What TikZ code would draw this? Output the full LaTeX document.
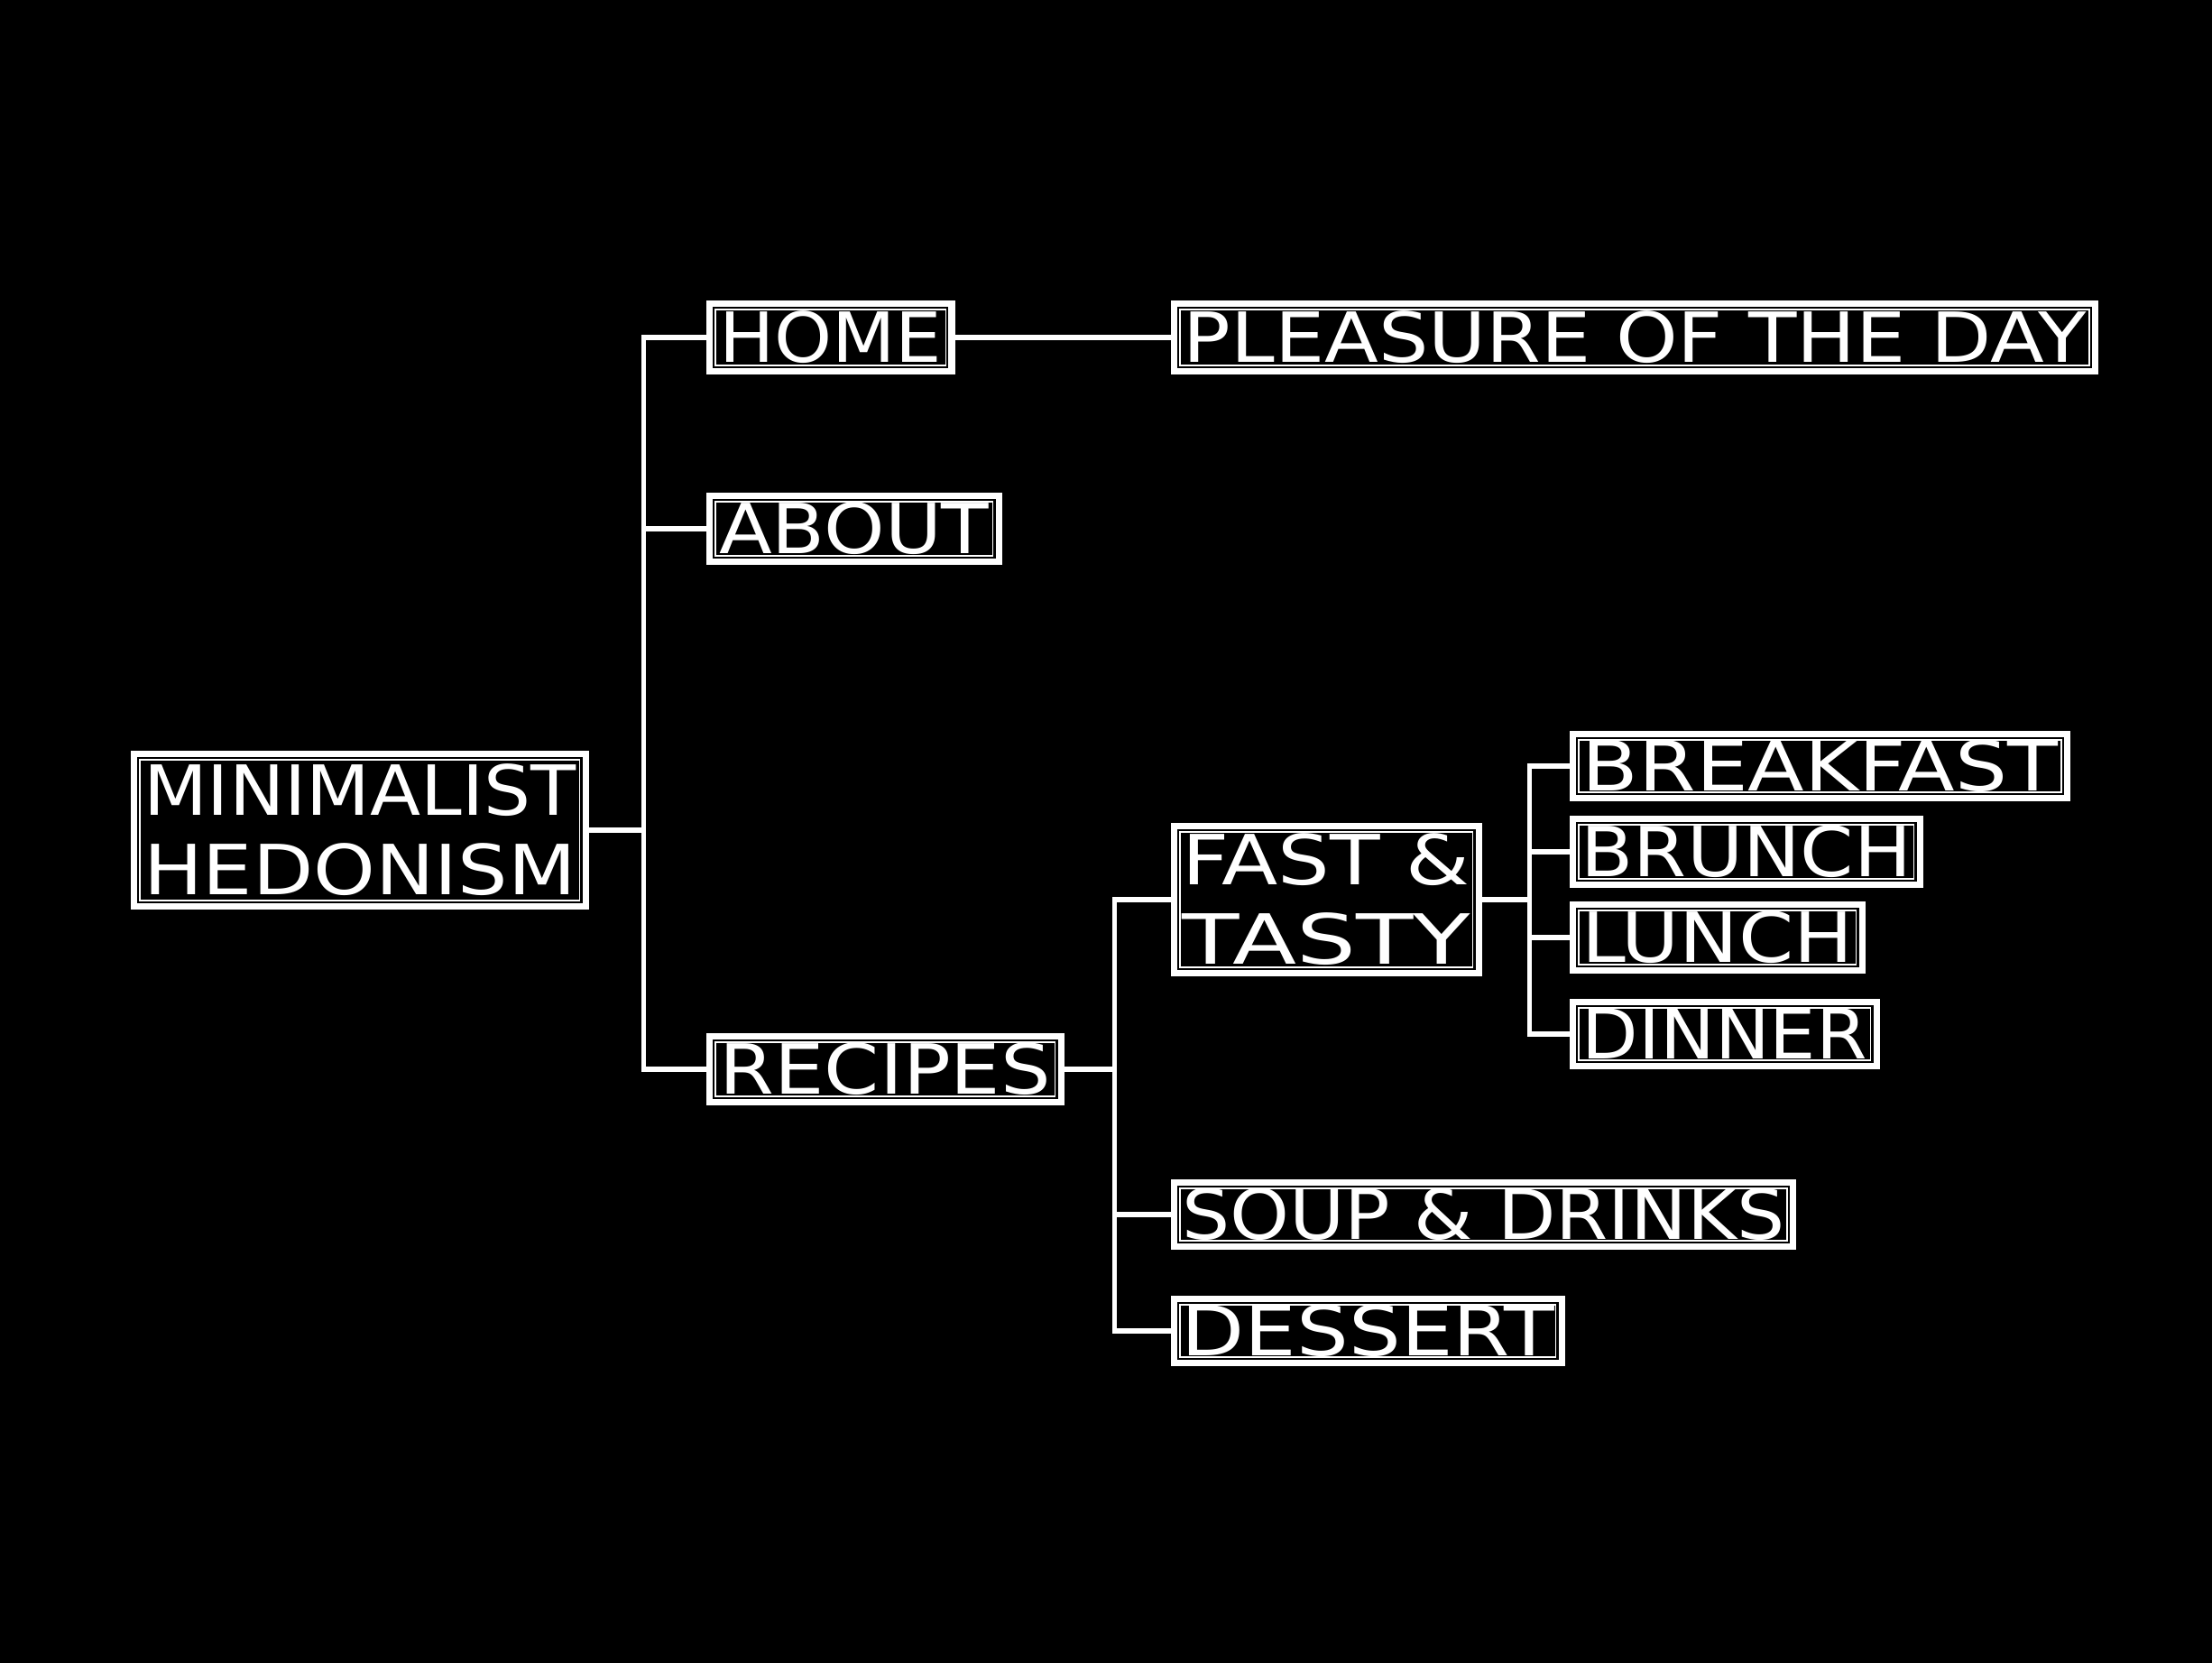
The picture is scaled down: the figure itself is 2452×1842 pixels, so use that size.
\documentclass[tikz,border=0pt]{standalone}
\usepackage{fontspec}
\setmainfont{DejaVu Sans}
\usepackage{graphicx}
\usetikzlibrary{calc}
\newcommand{\fitw}[2]{\resizebox{#1cm}{\height}{#2}}
\begin{document}
\begin{tikzpicture}[x=0.01cm,y=-0.01cm,
  innerline/.style={draw=white,line width=0.5pt,double=black,double distance=0.6pt},
  menubox/.style={draw=white,line width=1.8pt,fill=black,text=white,inner sep=0pt,
    anchor=west,align=center,font=\fontsize{21.8}{25}\selectfont},
  link/.style={draw=white,line width=1.5pt,line join=miter}]
\useasboundingbox (0,0) rectangle (2452,1842);
\fill[black] (-20,-20) rectangle (2472,1862);
% first level
\node[menubox,minimum width=5.01cm,minimum height=1.69cm] (root) at (145,920)
  {\fitw{4.79}{MINIMALIST}\\\fitw{4.79}{HEDONISM}};
\node[menubox,minimum width=2.69cm,minimum height=0.75cm] (home) at (783,374) {\fitw{2.47}{HOME}};
\node[menubox,minimum width=3.21cm,minimum height=0.73cm] (about) at (783,586) {\fitw{2.99}{ABOUT}};
\node[menubox,minimum width=3.90cm,minimum height=0.73cm] (recipes) at (783,1185) {\fitw{3.67}{RECIPES}};
% second level
\node[menubox,minimum width=10.21cm,minimum height=0.75cm] (pleasure) at (1298,374) {\fitw{10.00}{PLEASURE OF THE DAY}};
\node[menubox,minimum width=3.38cm,minimum height=1.64cm] (fast) at (1298,997)
  {\fitw{3.19}{FAST \&}\\\fitw{3.19}{TASTY}};
\node[menubox,minimum width=6.86cm,minimum height=0.72cm] (soup) at (1298,1346) {\fitw{6.68}{SOUP \& DRINKS}};
\node[menubox,minimum width=4.30cm,minimum height=0.72cm] (dessert) at (1298,1475) {\fitw{4.13}{DESSERT}};
% third level
\node[menubox,minimum width=5.48cm,minimum height=0.72cm] (breakfast) at (1740,849) {\fitw{5.27}{BREAKFAST}};
\node[menubox,minimum width=3.85cm,minimum height=0.73cm] (brunch) at (1740,944) {\fitw{3.66}{BRUNCH}};
\node[menubox,minimum width=3.21cm,minimum height=0.74cm] (lunch) at (1740,1039) {\fitw{3.01}{LUNCH}};
\node[menubox,minimum width=3.37cm,minimum height=0.72cm] (dinner) at (1740,1146) {\fitw{3.16}{DINNER}};
% inner frames
\foreach \n in {root,home,about,recipes,pleasure,fast,soup,dessert,breakfast,brunch,lunch,dinner}
  \draw[innerline] ($(\n.south west)+(2.3pt,2.3pt)$) rectangle ($(\n.north east)-(2.3pt,2.3pt)$);
% links
\foreach \n in {home,about,recipes}
  \draw[link] (root.east) -- ++(61,0) |- (\n.west);
\draw[link] (home) -- (pleasure);
\foreach \n in {fast,soup,dessert}
  \draw[link] (recipes.east) -- ++(56,0) |- (\n.west);
\foreach \n in {breakfast,brunch,lunch,dinner}
  \draw[link] (fast.east) -- ++(53,0) |- (\n.west);
\end{tikzpicture}
\end{document}
